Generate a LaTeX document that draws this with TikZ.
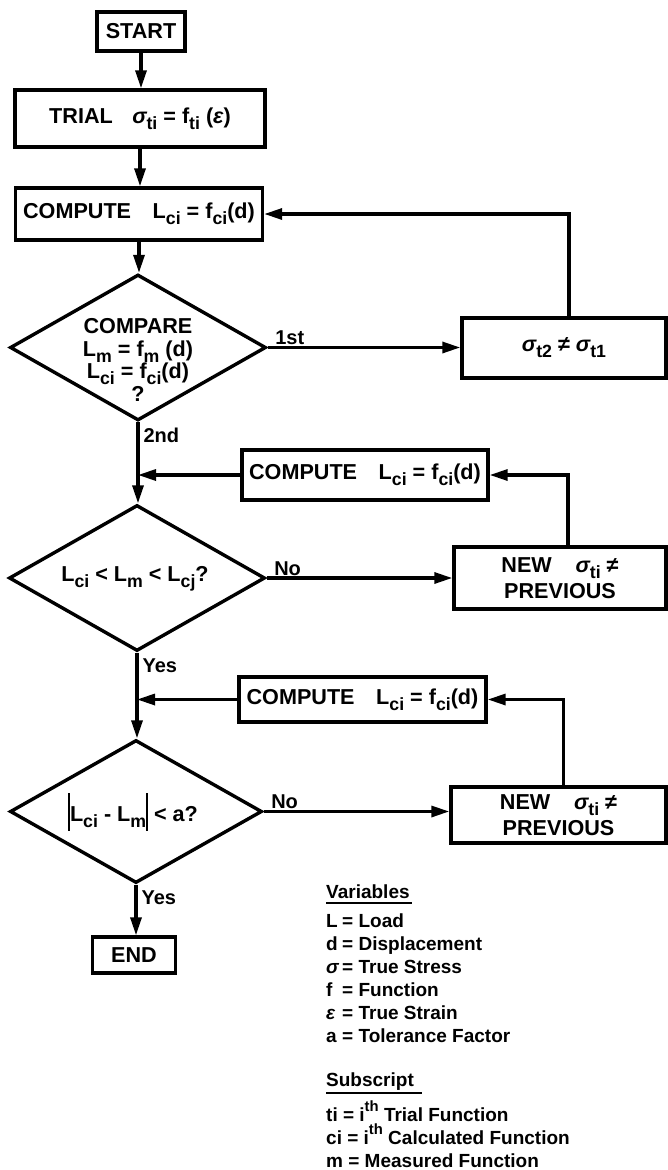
\documentclass[tikz,border=0pt]{standalone}
\usepackage{fontspec}
\setmainfont{Liberation Sans}
\usepackage{graphicx}
\usetikzlibrary{shapes.geometric,arrows.meta}
\newcommand\sbs[1]{\raisebox{-0.28em}{\scalebox{0.82}{#1}}}
\newcommand\sps[1]{\raisebox{0.5em}{\scalebox{0.78}{#1}}}
\newcommand\gk[1]{{\itshape #1}}
\begin{document}
\begin{tikzpicture}[x=1pt,y=-1pt,
  box/.style={draw, line width=3.4pt, inner sep=0pt, align=center,
    font=\bfseries\fontsize{21.6}{24}\selectfont},
  newbox/.style={box, font=\bfseries\fontsize{21.6}{26.5}\selectfont},
  dia/.style={draw, diamond, line width=3.4pt, inner sep=0pt,
    minimum width=256pt, minimum height=146pt},
  dtxt/.style={font=\bfseries\fontsize{21.6}{22.5}\selectfont, align=center, inner sep=0pt},
  arr/.style={line width=3.2pt, -{Triangle[length=18pt,width=11pt]}},
  lbl/.style={font=\bfseries\fontsize{20}{22}\selectfont, inner sep=1pt},
  leg/.style={font=\bfseries\fontsize{19}{23}\selectfont, inner sep=0pt, anchor=west, align=left}
]
\useasboundingbox (0,0) rectangle (668,1170);

% main column
\node[box, minimum width=88pt, minimum height=39pt] (start) at (141,31.5) {START};
\node[box, minimum width=250pt, minimum height=57pt] (trial) at (140,118.5)
  {TRIAL\hspace{0.9em}\gk{σ}\sbs{ti} = f\sbs{ti} (\gk{ε})};
\node[box, minimum width=247pt, minimum height=52pt] (comp1) at (139,214)
  {COMPUTE\hspace{1em}L\sbs{ci} = f\sbs{ci}(d)};
\node[dia] (d1) at (138,347.5) {};
\node[dtxt] (t1) at (138,360) {COMPARE\\ L\sbs{m} = f\sbs{m} (d)\\ L\sbs{ci} = f\sbs{ci}(d)\\ ?};
\node[box, minimum width=204pt, minimum height=60pt] (sig) at (564,348)
  {\gk{σ}\sbs{t2} ≠ \gk{σ}\sbs{t1}};

\node[box, minimum width=246pt, minimum height=50pt] (comp2) at (365,475)
  {COMPUTE\hspace{1em}L\sbs{ci} = f\sbs{ci}(d)};
\node[dia] (d2) at (137,578) {};
\node[dtxt] (t2) at (135,579) {L\sbs{ci} < L\sbs{m} < L\sbs{cj}?};
\node[newbox, minimum width=212pt, minimum height=62pt] (new1) at (560,578)
  {NEW\hspace{1.1em}\gk{σ}\sbs{ti} ≠\\PREVIOUS};

\node[box, minimum width=247pt, minimum height=45pt] (comp3) at (362.5,699.5)
  {COMPUTE\hspace{1em}L\sbs{ci} = f\sbs{ci}(d)};
\node[dia, minimum width=252pt, minimum height=143pt] (d3) at (136,811.5) {};
\node[dtxt] (t3) at (133,812)
  {\rule[-0.45em]{2pt}{1.75em}L\sbs{ci} - L\sbs{m}\rule[-0.45em]{2pt}{1.75em} < a?};
\node[newbox, minimum width=215pt, minimum height=56pt] (new2) at (558.5,815)
  {NEW\hspace{1.1em}\gk{σ}\sbs{ti} ≠\\PREVIOUS};

\node[box, minimum width=83pt, minimum height=36pt] (end) at (134,955) {END};

% connectors
\draw[arr] (start.south) -- (start.south |- trial.north);
\draw[arr] (trial.south) -- (trial.south |- comp1.north);
\draw[arr] (comp1.south) -- (comp1.south |- d1.north);
\draw[arr] (d1.east) -- node[lbl, pos=0, anchor=south west, xshift=5pt]{1st} (d1.east -| sig.west);
\draw[arr] ([xshift=5pt]sig.north) |- (comp1.east);

\draw[arr] (d1.south) -- node[lbl, pos=0, anchor=north west, xshift=3pt, yshift=-3pt]{2nd} (d1.south |- d2.north);
\draw[arr] (comp2.west) -- (comp2.west -| d1.south);
\draw[arr] (d2.east) -- node[lbl, pos=0, anchor=south west, xshift=5pt]{No} (d2.east -| new1.west);
\draw[arr] ([xshift=8pt]new1.north) |- (comp2.east);

\draw[arr] (d2.south) -- node[lbl, pos=0, anchor=north west, xshift=3pt, yshift=-3pt]{Yes} (d2.south |- d3.north);
\draw[arr] (comp3.west) -- (comp3.west -| d2.south);
\draw[arr] (d3.east) -- node[lbl, pos=0, anchor=south west, xshift=5pt]{No} (d3.east -| new2.west);
\draw[arr] ([xshift=5pt]new2.north) |- (comp3.east);

\draw[arr] (d3.south) -- node[lbl, pos=0, anchor=north west, xshift=3pt, yshift=-3pt]{Yes} (d3.south |- end.north);

% legend
\node[leg] (vh) at (326,892) {Variables};
\draw[line width=2.2pt] ([yshift=-4pt]vh.base west) -- ([xshift=2pt,yshift=-4pt]vh.base east);
\node[leg] (vars) at (326,980.5) {\begin{tabular}{@{}p{16pt}@{}l@{}}
L & = Load\\
d & = Displacement\\
\gk{σ} & = True Stress\\
f & = Function\\
\gk{ε} & = True Strain\\
a & = Tolerance Factor
\end{tabular}};
\node[leg] (sh) at (326,1082) {Subscript};
\draw[line width=2.2pt] ([yshift=-6pt]sh.base west) -- ([xshift=8pt,yshift=-6pt]sh.base east);
\node[leg, font=\bfseries\fontsize{19}{23}\selectfont] (subs) at (326,1134)
  {ti = i\sps{th} Trial Function\\ ci = i\sps{th} Calculated Function\\ m = Measured Function};
\end{tikzpicture}
\end{document}
